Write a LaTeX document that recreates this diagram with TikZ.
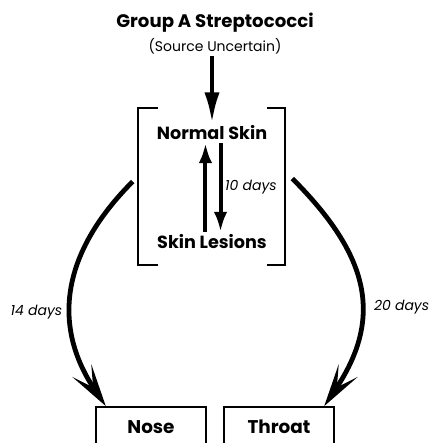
\documentclass[tikz,border=0pt]{standalone}
\usepackage{fontspec}
\setmainfont{Poppins}
\usetikzlibrary{arrows.meta,positioning,fit}
\tikzset{
 heading/.style={font=\bfseries\fontsize{13.6}{15}\selectfont,inner sep=0pt},
 sourcetext/.style={font=\fontsize{10.5}{12}\selectfont,inner sep=0pt},
 site/.style={font=\bfseries\fontsize{13.2}{15}\selectfont,inner sep=2pt},
 days/.style={font=\itshape\fontsize{10.5}{12}\selectfont,inner sep=2pt},
 organ/.style={draw,line width=1.3pt,minimum width=82.5pt,minimum height=30pt,
             font=\bfseries\fontsize{13.8}{15}\selectfont},
 arrow/.style={-{Latex[length=15pt,width=10pt]},line width=3pt},
 bigarrow/.style={-{Stealth[length=32pt,width=17pt,inset=15pt]},line width=3.6pt},
 bracket/.style={line width=1.6pt}
}

\begin{document}
\begin{tikzpicture}[x=0.75pt,y=0.75pt,node distance=4pt]
\useasboundingbox (0,0) rectangle (429,443);
\node[heading] (group) at (215,420) {Group A Streptococci};
\node[sourcetext,below=of group] (source) {(Source Uncertain)};
\node[site] (normal) at (212,310) {Normal Skin};
\node[site] (lesions) at (212,201) {Skin Lesions};
\node[inner sep=0pt,fit={(138,178) (285,335)}] (skin) {};
\node[organ] (nose) at (151,16) {Nose};
\node[organ] (throat) at (279,16) {Throat};
% brackets round the skin cycle
\draw[bracket] ([xshift=15pt]skin.north west) -| (skin.south west) -- ++(20,0);
\draw[bracket] ([xshift=-14pt]skin.north east) -| (skin.south east) -- ++(-18,0);
\draw[arrow,-{Latex[length=23pt,width=11.5pt]},shorten <=1pt] (normal.north |- source.south) -- (normal.north);
\draw[arrow] ([xshift=-4.9pt]lesions.north) -- ([xshift=-4.9pt]normal.south);
\draw[arrow] ([xshift=6.4pt]normal.south) -- node[days,right]{10 days} ([xshift=6.4pt]lesions.north);
% spread to nose and throat
\draw[bigarrow] ([shift={(-5,5)}]skin.west) to[out=225,in=124,looseness=1.12]
  node[days,left=3pt,pos=0.6]{14 days} ([xshift=8pt]nose.north west);
\draw[bigarrow] ([shift={(7,8)}]skin.east) to[out=-45,in=56,looseness=1.2]
  node[days,right=6pt,pos=0.59]{20 days} ([xshift=-8pt]throat.north east);
\end{tikzpicture}
\end{document}
